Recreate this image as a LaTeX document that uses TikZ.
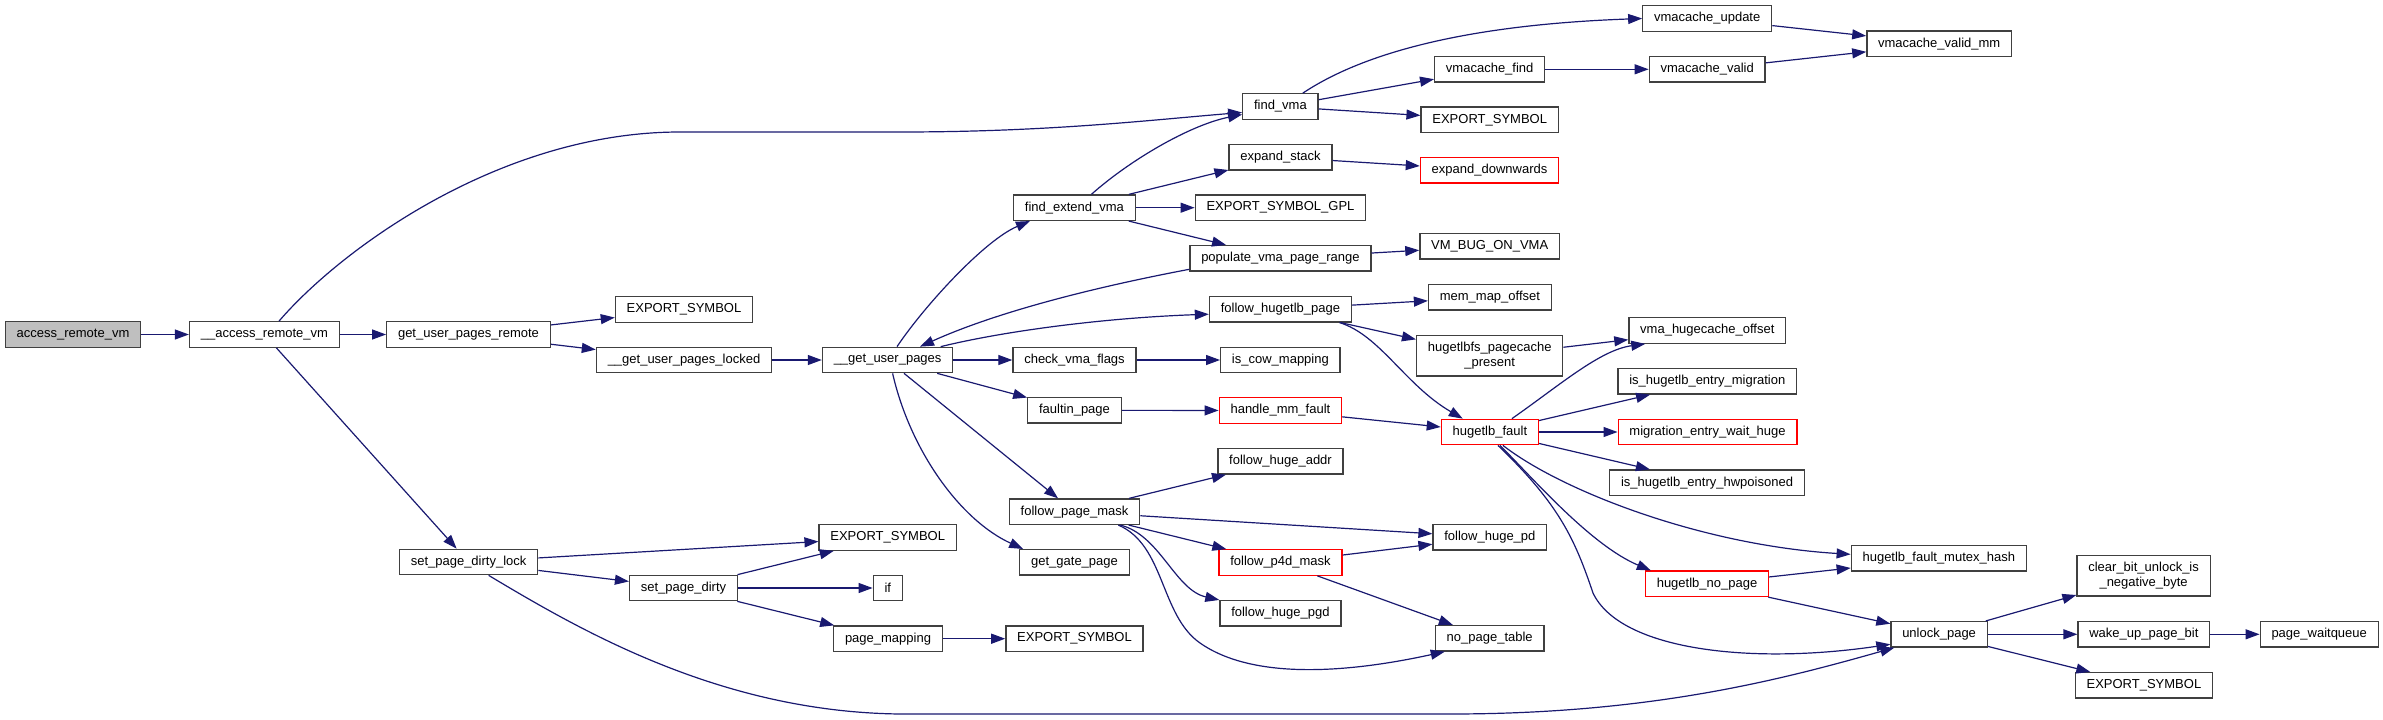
\documentclass[tikz,border=0pt]{standalone}
\usepackage{fontspec}
\setmainfont{Liberation Sans}
\usetikzlibrary{arrows.meta}
\definecolor{cgedge}{HTML}{191970}
\definecolor{cgline}{HTML}{404040}
\definecolor{cgroot}{HTML}{BFBFBF}
\definecolor{cgred}{HTML}{FF0000}

\begin{document}
\begin{tikzpicture}[x=1pt, y=-1pt,
  fn/.style={draw=cgline, line width=1.3pt, fill=white, inner xsep=11.3pt, inner ysep=6.5pt, minimum height=25.4pt, align=center, font=\fontsize{13}{15}\selectfont},
  rootfn/.style={fn, fill=cgroot},
  redfn/.style={fn, draw=cgred},
  arrow/.style={-{Triangle[length=14pt, width=10pt]}, line width=1.2pt, draw=cgedge}
]
\useasboundingbox (0,0) rectangle (2383,720);
\node[rootfn] (arv) at (73,334.5) {access\_remote\_vm};
\node[fn] (uarv) at (264.4,334.5) {\_\_access\_remote\_vm};
\node[fn] (gupr) at (468.5,334.5) {get\_user\_pages\_remote};
\node[fn] (spdl) at (468.6,562) {set\_page\_dirty\_lock};
\node[fn] (es1) at (684,309.5) {EXPORT\_SYMBOL};
\node[fn] (gupl) at (684,360) {\_\_get\_user\_pages\_locked};
\node[fn] (spd) at (683.5,588) {set\_page\_dirty};
\node[fn] (gup) at (887.6,360) {\_\_get\_user\_pages};
\node[fn] (es2) at (887.7,537.5) {EXPORT\_SYMBOL};
\node[fn] (iff) at (887.8,588) {if};
\node[fn] (pmap) at (888,638.7) {page\_mapping};
\node[fn] (fev) at (1074.4,207.7) {find\_extend\_vma};
\node[fn] (cvf) at (1074.5,360) {check\_vma\_flags};
\node[fn] (fpg) at (1074.5,410.3) {faultin\_page};
\node[fn] (fpm) at (1074.5,511.7) {follow\_page\_mask};
\node[fn] (ggp) at (1074.5,562.3) {get\_gate\_page};
\node[fn] (es3) at (1074.5,638.7) {EXPORT\_SYMBOL};
\node[fn] (fvma) at (1280.4,106.5) {find\_vma};
\node[fn] (xstk) at (1280.5,157.3) {expand\_stack};
\node[fn] (esgpl) at (1280.5,207.7) {EXPORT\_SYMBOL\_GPL};
\node[fn] (pvpr) at (1280.4,258.3) {populate\_vma\_page\_range};
\node[fn] (fhp) at (1280.4,309.2) {follow\_hugetlb\_page};
\node[fn] (icm) at (1280.4,360) {is\_cow\_mapping};
\node[redfn] (hmf) at (1280.4,410.5) {handle\_mm\_fault};
\node[fn] (fha) at (1280.5,461.3) {follow\_huge\_addr};
\node[redfn] (fp4d) at (1280.5,562.5) {follow\_p4d\_mask};
\node[fn] (fhpgd) at (1280.4,613.3) {follow\_huge\_pgd};
\node[fn] (vcf) at (1489.7,69.3) {vmacache\_find};
\node[fn] (es4) at (1489.7,119.8) {EXPORT\_SYMBOL};
\node[redfn] (xdown) at (1489.5,170.3) {expand\_downwards};
\node[fn] (vmbug) at (1489.7,246.2) {VM\_BUG\_ON\_VMA};
\node[fn] (mmo) at (1489.9,297.3) {mem\_map\_offset};
\node[fn] (hpp) at (1489.7,355.8) {hugetlbfs\_pagecache\\\_present};
\node[redfn] (hf) at (1489.9,432) {hugetlb\_fault};
\node[fn] (fhpd) at (1489.9,537.3) {follow\_huge\_pd};
\node[fn] (npt) at (1489.7,638.3) {no\_page\_table};
\node[fn] (vcu) at (1707.2,18.5) {vmacache\_update};
\node[fn] (vcv) at (1707.2,69.3) {vmacache\_valid};
\node[fn] (vho) at (1707.3,330.5) {vma\_hugecache\_offset};
\node[fn] (iem) at (1707.3,381.3) {is\_hugetlb\_entry\_migration};
\node[redfn] (ewh) at (1707.5,432) {migration\_entry\_wait\_huge};
\node[fn] (ieh) at (1707,482.7) {is\_hugetlb\_entry\_hwpoisoned};
\node[redfn] (hnp) at (1707,583.8) {hugetlb\_no\_page};
\node[fn] (vcvm) at (1939.2,43.8) {vmacache\_valid\_mm};
\node[fn] (hfmh) at (1938.8,558.3) {hugetlb\_fault\_mutex\_hash};
\node[fn] (ulp) at (1939.1,634.3) {unlock\_page};
\node[fn] (cbu) at (2143.6,575.8) {clear\_bit\_unlock\_is\\\_negative\_byte};
\node[fn] (wupb) at (2143.9,634.3) {wake\_up\_page\_bit};
\node[fn] (es5) at (2143.9,685.3) {EXPORT\_SYMBOL};
\node[fn] (pwq) at (2319.2,634.3) {page\_waitqueue};
\foreach \a/\b in {arv/uarv,uarv/gupr,uarv/spdl,gupr/es1,gupr/gupl,gupl/gup,gup/cvf,gup/fpg,gup/fpm,
  spdl/es2,spdl/spd,spd/es2,spd/iff,spd/pmap,pmap/es3,fev/xstk,fev/esgpl,fev/pvpr,fvma/vcf,fvma/es4,
  vcf/vcv,vcu/vcvm,vcv/vcvm,xstk/xdown,pvpr/vmbug,fhp/mmo,fhp/hpp,hpp/vho,cvf/icm,fpg/hmf,hmf/hf,
  hf/iem,hf/ewh,hf/ieh,hnp/hfmh,hnp/ulp,fpm/fha,fpm/fhpd,fpm/fp4d,fp4d/fhpd,fp4d/npt,ulp/cbu,ulp/wupb,
  ulp/es5,wupb/pwq}
  \draw[arrow] (\a) -- (\b);
\draw[arrow] ([xshift=14.6pt]uarv.north) .. controls (340,250) and (500,132) .. (680,132) -- (900,132)
  .. controls (1050,132) and (1150,120) .. ([yshift=-6pt]fvma.west);
\draw[arrow] ([xshift=9.4pt]gup.north) .. controls (925,305) and (985,240) .. ([xshift=17pt]fev.south west);
\draw[arrow] ([xshift=17pt]fev.north) .. controls (1130,160) and (1190,125) .. ([yshift=-8pt]fvma.west);
\draw[arrow] ([yshift=-11pt]pvpr.west) .. controls (1080,290) and (990,315) .. ([xshift=32.4pt]gup.north);
\draw[arrow] ([xshift=-12.7pt]gup.north east) .. controls (1000,332) and (1100,318) .. ([yshift=-5pt]fhp.west);
\draw[arrow] ([xshift=5pt]gup.south) .. controls (910,450) and (960,520) .. ([xshift=4pt]ggp.north west);
\draw[arrow] ([xshift=-20pt]fpm.south east) .. controls (1160,535) and (1175,590) .. (fhpgd.north west);
\draw[arrow] ([xshift=-22pt]fpm.south east) .. controls (1165,545) and (1160,615) .. (1200,643)
  .. controls (1260,685) and (1370,668) .. ([xshift=10pt]npt.south west);
\draw[arrow] ([xshift=-12.6pt]fhp.south east) .. controls (1380,335) and (1405,385) .. ([xshift=22pt]hf.north west);
\draw[arrow] ([xshift=22pt]hf.north) .. controls (1560,385) and (1600,350) .. ([xshift=17pt]vho.south west);
\draw[arrow] ([xshift=13pt]hf.south) .. controls (1560,490) and (1700,545) .. ([yshift=4pt]hfmh.west);
\draw[arrow] ([xshift=10pt]hf.south) .. controls (1530,475) and (1590,545) .. ([xshift=6pt]hnp.north west);
\draw[arrow] ([xshift=8pt]hf.south) .. controls (1560,505) and (1575,540) .. (1593,593)
  .. controls (1620,650) and (1750,665) .. ([yshift=-10pt]ulp.west);
\draw[arrow] ([xshift=20pt]spdl.south) .. controls (580,630) and (720,712) .. (900,714) -- (1450,714)
  .. controls (1650,714) and (1780,680) .. ([xshift=4pt]ulp.south west);
\draw[arrow] ([xshift=22.4pt]fvma.north) .. controls (1360,55) and (1460,25) .. (vcu.west);
\end{tikzpicture}
\end{document}
